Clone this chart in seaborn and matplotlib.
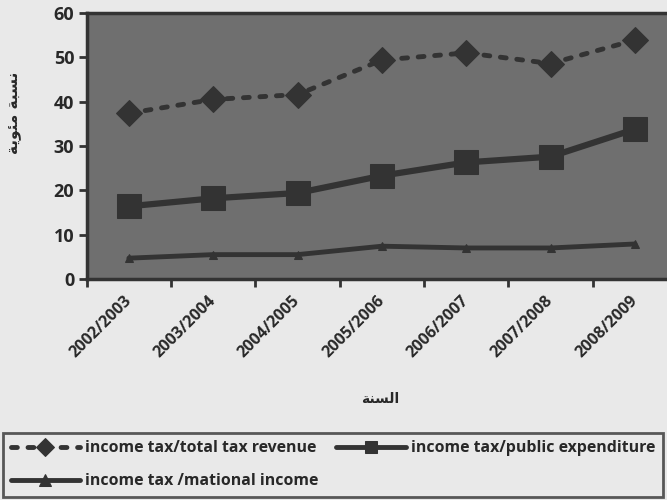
import matplotlib
matplotlib.use("Agg")
import matplotlib.pyplot as plt
import matplotlib.transforms as mtransforms
import seaborn as sns
import pandas as pd
from matplotlib.ticker import FixedLocator

years = ["2002/2003", "2003/2004", "2004/2005", "2005/2006",
         "2006/2007", "2007/2008", "2008/2009"]
tax_total = [37.4, 40.5, 41.6, 49.4, 51.0, 48.6, 53.9]
tax_expend = [16.4, 18.2, 19.4, 23.3, 26.3, 27.6, 33.8]
tax_national = [4.7, 5.5, 5.5, 7.4, 7.0, 7.0, 7.9]
series_names = ["income tax/total tax revenue",
                "income tax/public expenditure",
                "income tax /mational income"]
y_ticks = [0, 10, 20, 30, 40, 50, 60]

# Arabic labels, pre-shaped presentation forms in visual order
ylabel_ar = "\uFE94\uFEF3\uFEEE\uFE8C\uFEE3 \uFE94\uFE92\uFEB4\uFEE7"   # نسبة مئوية
xlabel_ar = "\uFE94\uFEE8\uFEB4\uFEDF\uFE8D"                         # السنة

sns.set_theme(style="white")
plt.rcParams['font.family'] = ['Open Sans', 'DejaVu Sans']

BG = "#e9e9e9"
PLOT_BG = "#6f6f6f"
INK = "#333333"
TXT = "#282828"

fig = plt.figure(figsize=(6.67, 5.0), dpi=100, facecolor=BG)
ax = fig.add_axes([0.130, 0.442, 0.870, 0.532])
ax.set_facecolor(PLOT_BG)

x = list(range(len(years)))
df1 = pd.DataFrame({"x": x, "v": tax_total})
df2 = pd.DataFrame({"x": x, "v": tax_expend})
df3 = pd.DataFrame({"x": x, "v": tax_national})

sns.lineplot(data=df1, x="x", y="v", ax=ax, color=INK, linewidth=3.5,
             marker="D", markersize=13, markeredgecolor=INK,
             label=series_names[0])
ax.lines[-1].set_linestyle((0, (1.2, 2.2)))
ax.lines[-1].set_dash_capstyle("round")
sns.lineplot(data=df2, x="x", y="v", ax=ax, color=INK, linewidth=4.5,
             marker="s", markersize=17, markeredgecolor=INK,
             label=series_names[1])
sns.lineplot(data=df3, x="x", y="v", ax=ax, color=INK, linewidth=3.5,
             marker="^", markersize=6, markeredgecolor=INK,
             label=series_names[2])

ax.set_xlim(-0.5, 6.38)
ax.set_ylim(0, 60)
ax.set_yticks(y_ticks)
ax.set_yticklabels([str(t) for t in y_ticks], fontsize=13, fontweight="bold", color=TXT)

ax.set_xticks(x)
ax.set_xticklabels(years, rotation=45, ha="right", va="center",
                   rotation_mode="anchor", fontsize=11.6, fontweight="bold", color=TXT)
offset = mtransforms.ScaledTranslation(-12 / 100, -2 / 100, fig.dpi_scale_trans)
for lbl in ax.get_xticklabels():
    lbl.set_transform(lbl.get_transform() + offset)
ax.tick_params(axis="x", which="major", length=0, pad=14)
ax.xaxis.set_minor_locator(FixedLocator([i - 0.5 for i in range(7)]))
ax.tick_params(axis="x", which="minor", length=6, width=2, color=INK, direction="out", bottom=True)
ax.tick_params(axis="y", length=6, width=2, color=INK, direction="out", left=True, pad=3)

for s in ["left", "bottom", "top"]:
    ax.spines[s].set_color(INK)
    ax.spines[s].set_linewidth(2.5)
ax.spines["right"].set_visible(False)

ax.set_xlabel("")
ax.set_ylabel("")
fig.text(15 / 667, 1 - 113 / 500, ylabel_ar, fontsize=11, fontweight="bold", color=TXT,
         family=["DejaVu Sans"], ha="center", va="center", rotation=90)
fig.text(380 / 667, 1 - 399 / 500, xlabel_ar, fontsize=10, fontweight="bold", color=TXT,
         family=["DejaVu Sans"], ha="center", va="center")

handles, labels = ax.get_legend_handles_labels()
ax.get_legend().remove()
order = [0, 2, 1]
leg = fig.legend([handles[i] for i in order], [labels[i] for i in order],
                 loc="lower left", ncol=2, mode="expand",
                 bbox_to_anchor=(0.004, 0.006, 0.990, 0.14),
                 frameon=True, fancybox=False, handlelength=4.4,
                 handletextpad=0.3, borderaxespad=0.0, borderpad=0.5,
                 labelspacing=1.05, columnspacing=0.5,
                 prop={"family": "Open Sans", "weight": "bold", "size": 11.4})
leg.get_frame().set_edgecolor(INK)
leg.get_frame().set_linewidth(2)
leg.get_frame().set_facecolor(BG)
for t in leg.get_texts():
    t.set_color(TXT)
for h in leg.legend_handles:
    h.set_markersize(9)
    h.set_linewidth(3.5)

fig.savefig("out.png", dpi=100, facecolor=BG)
